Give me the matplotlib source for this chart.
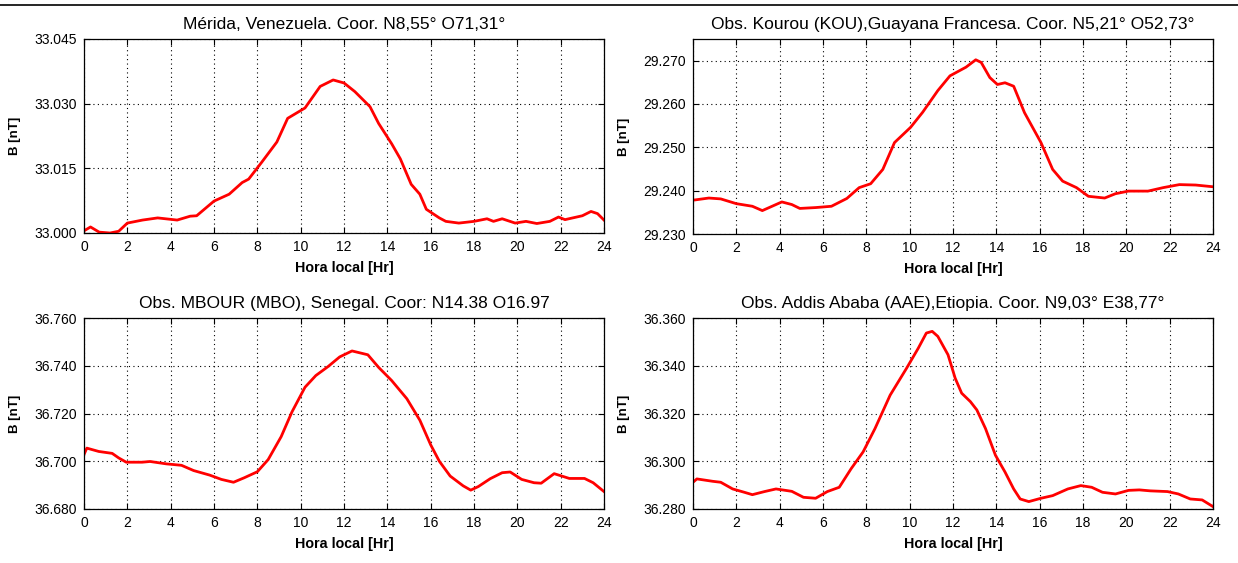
import matplotlib
matplotlib.use("Agg")
import matplotlib.pyplot as plt
import numpy as np
from matplotlib.lines import Line2D

plt.rcParams['font.family'] = ['Liberation Sans', 'DejaVu Sans']

# %% Datos
merida_h = [0, 0.3, 0.7, 1.2, 1.6, 2.0, 2.7, 3.4, 4.3, 4.9, 5.2, 6.0, 6.7, 7.3, 7.6,
            8.2, 8.9, 9.4, 10.2, 10.9, 11.5, 12.0, 12.5, 13.2, 13.6, 14.2, 14.6, 15.1,
            15.5, 15.8, 16.4, 16.7, 17.3, 18.0, 18.6, 18.9, 19.3, 19.9, 20.4, 20.9,
            21.5, 21.9, 22.2, 23.0, 23.4, 23.7, 24.0]
merida_b = [33.0005, 33.0014, 33.0002, 33.0000, 33.0004, 33.0023, 33.0030, 33.0035,
            33.0030, 33.0039, 33.0040, 33.0074, 33.0090, 33.0117, 33.0125, 33.0164,
            33.0211, 33.0266, 33.0290, 33.0340, 33.0355, 33.0348, 33.0328, 33.0293,
            33.0254, 33.0207, 33.0172, 33.0113, 33.0090, 33.0055, 33.0035, 33.0027,
            33.0023, 33.0027, 33.0033, 33.0027, 33.0033, 33.0023, 33.0027, 33.0022,
            33.0027, 33.0037, 33.0031, 33.0040, 33.0050, 33.0045, 33.0030]

kourou_h = [0, 0.73, 1.28, 2.0, 2.74, 3.2, 3.65, 4.1, 4.56, 4.93, 5.66, 6.39, 7.1,
            7.67, 8.2, 8.76, 9.3, 10.04, 10.6, 11.3, 11.86, 12.6, 13.05, 13.3, 13.7,
            14.05, 14.4, 14.8, 15.3, 16.06, 16.6, 17.06, 17.7, 18.25, 19.0, 19.5,
            20.1, 21.0, 21.7, 22.45, 23.2, 24.0]
kourou_b = [29.2378, 29.2383, 29.2381, 29.2370, 29.2364, 29.2354, 29.2364, 29.2374,
            29.2368, 29.2359, 29.2361, 29.2364, 29.2382, 29.2407, 29.2416, 29.2449,
            29.2511, 29.2546, 29.2581, 29.2631, 29.2665, 29.2685, 29.2702, 29.2696,
            29.2661, 29.2645, 29.2649, 29.2641, 29.2580, 29.2511, 29.2449, 29.2422,
            29.2407, 29.2387, 29.2383, 29.2393, 29.2399, 29.2399, 29.2407, 29.2414,
            29.2413, 29.2409]

mbour_h = [0, 0.13, 0.68, 1.3, 1.6, 1.95, 2.68, 3.05, 3.8, 4.5, 5.06, 5.8, 6.34, 6.9,
           7.4, 8.0, 8.5, 9.1, 9.6, 10.2, 10.7, 11.27, 11.8, 12.37, 13.1, 13.6, 14.2,
           14.9, 15.5, 16.0, 16.4, 16.9, 17.5, 17.85, 18.2, 18.75, 19.3, 19.67, 20.2,
           20.77, 21.1, 21.7, 22.05, 22.4, 23.1, 23.5, 24.0]
mbour_b = [36.7028, 36.7055, 36.7041, 36.7033, 36.7014, 36.6996, 36.6996, 36.6999,
           36.6989, 36.6983, 36.6961, 36.6942, 36.6924, 36.6912, 36.6931, 36.6956,
           36.7007, 36.7103, 36.7207, 36.7310, 36.7359, 36.7397, 36.7437, 36.7462,
           36.7446, 36.7393, 36.7338, 36.7262, 36.7172, 36.7069, 36.7000, 36.6938,
           36.6897, 36.6879, 36.6894, 36.6927, 36.6952, 36.6955, 36.6924, 36.6910,
           36.6908, 36.6948, 36.6938, 36.6928, 36.6928, 36.6910, 36.6873]

addis_h = [0, 0.18, 0.91, 1.28, 1.83, 2.37, 2.74, 3.3, 3.83, 4.56, 5.1, 5.66, 6.2,
           6.75, 7.3, 7.85, 8.4, 9.1, 9.86, 10.4, 10.77, 11.04, 11.3, 11.77, 12.1,
           12.4, 12.8, 13.1, 13.5, 13.96, 14.4, 14.8, 15.1, 15.5, 16.06, 16.6, 17.3,
           17.9, 18.4, 18.9, 19.5, 20.1, 20.6, 21.1, 21.9, 22.4, 22.95, 23.5, 24.0]
addis_b = [36.2912, 36.2926, 36.2916, 36.2912, 36.2884, 36.2870, 36.2860, 36.2873,
           36.2884, 36.2874, 36.2849, 36.2845, 36.2873, 36.2891, 36.2969, 36.3039,
           36.3137, 36.3277, 36.3390, 36.3474, 36.3537, 36.3544, 36.3523, 36.3446,
           36.3348, 36.3285, 36.3250, 36.3215, 36.3137, 36.3025, 36.2955, 36.2884,
           36.2842, 36.2831, 36.2845, 36.2856, 36.2884, 36.2898, 36.2891, 36.2870,
           36.2863, 36.2878, 36.2880, 36.2876, 36.2873, 36.2863, 36.2842, 36.2838,
           36.2810]

titles = ['Mérida, Venezuela. Coor. N8,55° O71,31°',
          'Obs. Kourou (KOU),Guayana Francesa. Coor. N5,21° O52,73°',
          'Obs. MBOUR (MBO), Senegal. Coor: N14.38 O16.97',
          'Obs. Addis Ababa (AAE),Etiopia. Coor. N9,03° E38,77°']
yticks_list = [[33.000, 33.015, 33.030, 33.045],
               [29.230, 29.240, 29.250, 29.260, 29.270],
               [36.680, 36.700, 36.720, 36.740, 36.760],
               [36.280, 36.300, 36.320, 36.340, 36.360]]
ylims = [(33.000, 33.045), (29.230, 29.275), (36.680, 36.760), (36.280, 36.360)]
xticks = list(range(0, 25, 2))

# %% Figura
W, H = 1238, 563
fig = plt.figure(figsize=(W / 100, H / 100), dpi=100)

def px_axes(x0, y0, x1, y1):
    return fig.add_axes([x0 / W, 1 - y1 / H, (x1 - x0) / W, (y1 - y0) / H])

axs = [px_axes(84, 39, 604, 233), px_axes(693, 39, 1213, 234),
       px_axes(84, 318, 604, 509), px_axes(693, 318, 1213, 509)]
series = [(merida_h, merida_b), (kourou_h, kourou_b),
          (mbour_h, mbour_b), (addis_h, addis_b)]

for ax, (h, b), title, yt, yl in zip(axs, series, titles, yticks_list, ylims):
    ax.plot(h, b, color='#ff0000', lw=2)
    ax.set_xlim(0, 24)
    ax.set_ylim(*yl)
    ax.set_xticks(xticks)
    ax.set_yticks(yt)
    ax.set_yticklabels(['%.3f' % v for v in yt])
    ax.grid(True, color='black', linestyle=(0, (1, 3)), linewidth=0.8)
    ax.tick_params(direction='in', top=True, right=True, length=4, width=0.8,
                   labelsize=10, colors='black', pad=5)
    for s in ax.spines.values():
        s.set_color('black')
        s.set_linewidth(0.9)
    ax.set_title(title, fontsize=12.5, pad=7)
    ax.set_xlabel('Hora local [Hr]', fontsize=10.3, fontweight='bold', labelpad=5)
    ax.set_ylabel('B [nT]', fontsize=9.5, fontweight='bold', labelpad=10)

fig.add_artist(Line2D([0, 1], [1 - 4.5 / H] * 2, color='black', lw=1.2))

fig.savefig('out.png', dpi=100, facecolor='white')
